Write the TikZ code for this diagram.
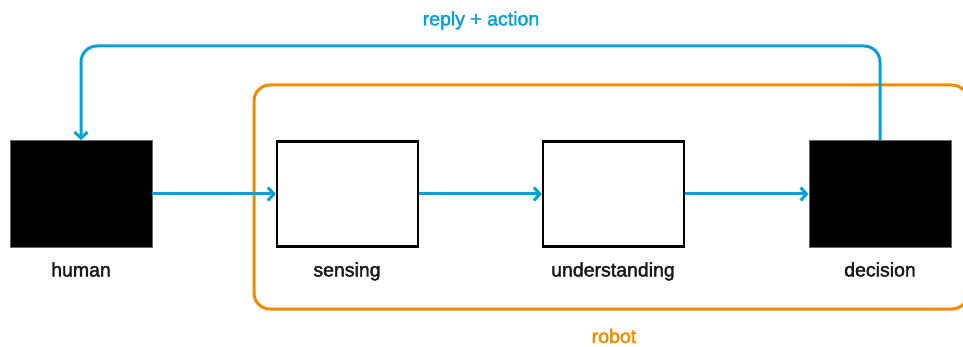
\documentclass[tikz,border=0pt]{standalone}
\usepackage{fontspec}
\setmainfont{Liberation Sans}
\newfontfamily\labelfont[FakeBold=2]{Liberation Sans}
\usetikzlibrary{arrows.meta}
\definecolor{flowblue}{HTML}{0AA0D6}
\definecolor{robotorange}{HTML}{F28A00}
\tikzset{
  solidbox/.style={draw=black!60, line width=0.8pt, fill=black, minimum width=142pt, minimum height=107pt, inner sep=0pt},
  openbox/.style={draw=black, line width=2.2pt, fill=white, minimum width=141pt, minimum height=105pt, inner sep=0pt},
  caption/.style={font=\labelfont\fontsize{19.5}{22}\selectfont, text=black!90, inner sep=0pt, anchor=base},
  flow/.style={draw=flowblue, line width=3pt, -{Straight Barb[length=6pt, width=13pt, line width=3pt]}},
}
\begin{document}
\begin{tikzpicture}[x=1pt, y=-1pt]
  \useasboundingbox (0,0) rectangle (963,347);
  \begin{scope}
    \clip (0,0) rectangle (963,347);
    % robot container, its right side runs past the edge
    \draw[robotorange, line width=3pt, rounded corners=16pt] (254,85) rectangle (968,309);
  \end{scope}
  \node[caption, text=robotorange] (robotlbl) at (614,343) {robot};

  % stages
  \node[solidbox] (human) at (81,194) {};
  \node[openbox] (sensing) at (347.5,194) {};
  \node[openbox] (understanding) at (613.5,194) {};
  \node[solidbox] (decision) at (880,194) {};

  \node[caption] (humanlbl) at (81,276.5) {human};
  \node[caption] (sensinglbl) at (347,276.5) {sensing};
  \node[caption] (understandinglbl) at (613,276.5) {understanding};
  \node[caption] (decisionlbl) at (880,276.5) {decision};

  % forward flow
  \draw[flow] (human.east) -- (sensing.west);
  \draw[flow] (sensing.east) -- (understanding.west);
  \draw[flow] (understanding.east) -- (decision.west);

  % feedback loop back to the human
  \coordinate (topright) at (880,46);
  \coordinate (topleft) at (81,46);
  \draw[flow, rounded corners=16pt] (decision.north) -- (topright) -- (topleft) -- (human.north);
  \node[caption, text=flowblue] (replylbl) at (481,25.5) {reply + action};
\end{tikzpicture}
\end{document}
